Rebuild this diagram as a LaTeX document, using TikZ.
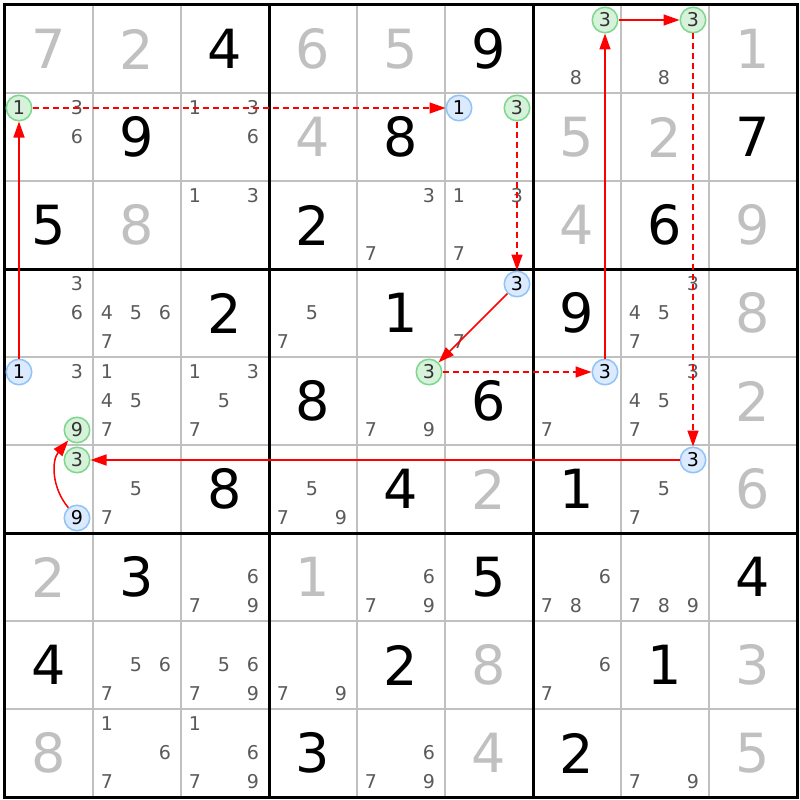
\documentclass[tikz,border=0pt]{standalone}
\usepackage{fontspec}
\setmainfont{DejaVu Sans}
\usetikzlibrary{arrows.meta}
\definecolor{solvedgray}{RGB}{192,192,192}
\definecolor{candgray}{RGB}{90,90,90}
\definecolor{gridgray}{RGB}{192,192,192}
\definecolor{onfill}{RGB}{214,242,218}
\definecolor{ondraw}{RGB}{125,215,140}
\definecolor{offfill}{RGB}{219,234,254}
\definecolor{offdraw}{RGB}{144,196,246}
\begin{document}
\begin{tikzpicture}[x=1pt, y=-1pt,
  given/.style={font=\fontsize{54}{54}\selectfont, inner sep=0pt},
  solved/.style={given, text=solvedgray},
  cand/.style={font=\fontsize{19}{19}\selectfont, text=candgray, inner sep=0pt},
  oncand/.style={cand, circle, draw=ondraw, fill=onfill, line width=1.5pt, minimum size=25.5pt, text=black!80},
  offcand/.style={cand, circle, draw=offdraw, fill=offfill, line width=1.5pt, minimum size=25.5pt, text=black},
  link/.style={red, line width=1.5pt, -{Triangle[length=16pt,width=11pt]}},
  weaklink/.style={link, dash pattern=on 6pt off 4pt}]
\fill[white] (-5,-5) rectangle (795,795);
\useasboundingbox (-5,-5) rectangle (795,795);
% grid
\foreach \i in {1,2,4,5,7,8} {
  \draw[gridgray, line width=1.5pt] (88*\i,0) -- (88*\i,792);
  \draw[gridgray, line width=1.5pt] (0,88*\i) -- (792,88*\i);
}
\foreach \i in {0,3,6,9} {
  \draw[black, line width=3pt] (88*\i,-1.5) -- (88*\i,793.5);
  \draw[black, line width=3pt] (-1.5,88*\i) -- (793.5,88*\i);
}
% digits
\foreach \row/\col/\val in {0/2/4, 0/5/9, 1/1/9, 1/4/8, 1/8/7, 2/0/5, 2/3/2, 2/7/6,
    3/2/2, 3/4/1, 3/6/9, 4/3/8, 4/5/6, 5/2/8, 5/4/4, 5/6/1, 6/1/3, 6/5/5, 6/8/4,
    7/0/4, 7/4/2, 7/7/1, 8/3/3, 8/6/2}
  \node[given] (r\row c\col) at (88*\col+44, 88*\row+44) {\val};
\foreach \row/\col/\val in {0/0/7, 0/1/2, 0/3/6, 0/4/5, 0/8/1, 1/3/4, 1/6/5, 1/7/2,
    2/1/8, 2/6/4, 2/8/9, 3/8/8, 4/8/2, 5/5/2, 5/8/6, 6/0/2, 6/3/1, 7/5/8, 7/8/3,
    8/0/8, 8/5/4, 8/8/5}
  \node[solved] (r\row c\col) at (88*\col+44, 88*\row+44) {\val};
% candidates
\foreach \row/\col/\ds in {0/6/8, 0/7/8, 1/0/{3,6}, 1/2/{1,3,6}, 2/2/{1,3}, 2/4/{3,7},
    2/5/{1,3,7}, 3/0/{3,6}, 3/1/{4,5,6,7}, 3/3/{5,7}, 3/5/7, 3/7/{3,4,5,7}, 4/0/3,
    4/1/{1,4,5,7}, 4/2/{1,3,5,7}, 4/4/{7,9}, 4/6/7, 4/7/{3,4,5,7}, 5/1/{5,7},
    5/3/{5,7,9}, 5/7/{5,7}, 6/2/{6,7,9}, 6/4/{6,7,9}, 6/6/{6,7,8}, 6/7/{7,8,9},
    7/1/{5,6,7}, 7/2/{5,6,7,9}, 7/3/{7,9}, 7/6/{6,7}, 8/1/{1,6,7}, 8/2/{1,6,7,9},
    8/4/{6,7,9}, 8/7/{7,9}}
  \foreach \dig in \ds
    \node[cand] (r\row c\col d\dig) at ({88*\col+14+29*mod(\dig-1,3)}, {88*\row+15+29*floor((\dig-1)/3)}) {\dig};
% chain
\node[offcand] (r4c0d1) at (14,367) {1};
\node[oncand] (r1c0d1) at (14,103) {1};
\node[offcand] (r1c5d1) at (454,103) {1};
\node[oncand] (r1c5d3) at (512,103) {3};
\node[offcand] (r3c5d3) at (512,279) {3};
\node[oncand] (r4c4d3) at (424,367) {3};
\node[offcand] (r4c6d3) at (600,367) {3};
\node[oncand] (r0c6d3) at (600,15) {3};
\node[oncand] (r0c7d3) at (688,15) {3};
\node[offcand] (r5c7d3) at (688,455) {3};
\node[oncand] (r5c0d3) at (72,455) {3};
\node[offcand] (r5c0d9) at (72,513) {9};
\node[oncand] (r4c0d9) at (72,425) {9};
\draw[link] (r4c0d1) -- (r1c0d1);
\draw[weaklink] (r1c0d1) -- (r1c5d1);
\draw[weaklink] (r1c5d3) -- (r3c5d3);
\draw[link] (r3c5d3) -- (r4c4d3);
\draw[weaklink] (r4c4d3) -- (r4c6d3);
\draw[link] (r4c6d3) -- (r0c6d3);
\draw[link] (r0c6d3) -- (r0c7d3);
\draw[weaklink] (r0c7d3) -- (r5c7d3);
\draw[link] (r5c7d3) -- (r5c0d3);
\draw[link] (r5c0d9) to[bend left=40] (r4c0d9);
\end{tikzpicture}
\end{document}
